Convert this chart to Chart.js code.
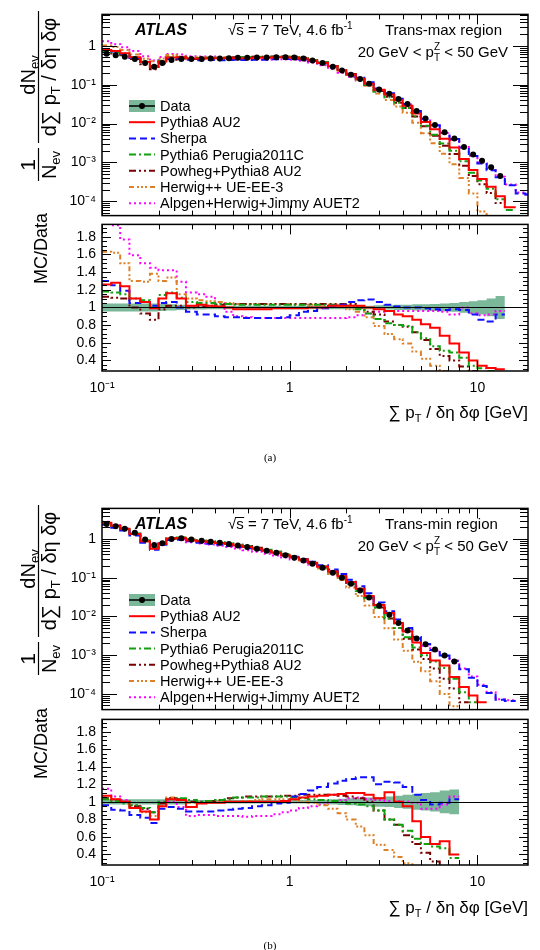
<!DOCTYPE html>
<html>
<head>
<meta charset="utf-8">
<title>Trans-max / Trans-min</title>
<script src="https://cdn.jsdelivr.net/npm/chart.js@4.4.1/dist/chart.umd.min.js"></script>
<style>
  body { margin: 0; background: #fff; }
  #page { position: relative; width: 540px; height: 950px; overflow: hidden; }
  canvas { position: absolute; left: 0; }
  .cap { position: absolute; left: 0; width: 540px; text-align: center; font: 11px "Liberation Serif", "DejaVu Serif", serif; color: #000; }
</style>
</head>
<body>
<div id="page">
  <canvas id="mainMax" width="540" height="230" style="top:0px"></canvas>
  <canvas id="ratioMax" width="540" height="230" style="top:210px"></canvas>
  <div class="cap" style="top:451px">(a)</div>
  <canvas id="mainMin" width="540" height="230" style="top:494px"></canvas>
  <canvas id="ratioMin" width="540" height="245" style="top:705px"></canvas>
  <div class="cap" style="top:939px">(b)</div>
</div>
<script>
const FONT = '"Liberation Sans", Arial, Helvetica, sans-serif';

// bin edges of sum pT / deta dphi [GeV]
const binEdges = [0.1, 0.112, 0.125, 0.14, 0.16, 0.18, 0.2, 0.22, 0.25, 0.28,
    0.32, 0.36, 0.4, 0.45, 0.5, 0.56, 0.63, 0.71, 0.8, 0.9,
    1.0, 1.12, 1.25, 1.4, 1.6, 1.8, 2.0, 2.25, 2.5, 2.8,
    3.2, 3.6, 4.0, 4.5, 5.0, 5.6, 6.3, 7.1, 8.0, 9.0,
    10, 11.2, 12.5, 14, 16, 18, 20];

// ---- trans-max region ----
const maxData = [0.62, 0.57, 0.52, 0.46, 0.36, 0.29, 0.36, 0.43, 0.46, 0.46,
    0.46, 0.47, 0.47, 0.48, 0.49, 0.49, 0.50, 0.50, 0.51, 0.51,
    0.50, 0.47, 0.42, 0.36, 0.29, 0.23, 0.18, 0.14, 0.105, 0.075,
    0.058, 0.043, 0.032, 0.021, 0.0135, 0.0092, 0.0060, 0.0041, 0.0025, 0.0016,
    0.0011, 0.00075, 0.00045];
const maxErr = [0.045, 0.045, 0.045, 0.045, 0.045, 0.045, 0.04, 0.035, 0.03, 0.025,
    0.025, 0.02, 0.02, 0.02, 0.02, 0.02, 0.02, 0.02, 0.02, 0.02,
    0.02, 0.02, 0.02, 0.02, 0.02, 0.02, 0.02, 0.02, 0.02, 0.025,
    0.025, 0.03, 0.03, 0.035, 0.035, 0.04, 0.045, 0.05, 0.06, 0.07,
    0.08, 0.1, 0.13];
// MC / Data
const maxPythia8 = [1.26, 1.28, 1.24, 1.10, 1.06, 0.99, 1.10, 1.16, 1.10, 1.02,
    1.03, 1.02, 1.01, 1.00, 0.98, 0.98, 0.98, 0.98, 0.99, 0.99,
    0.99, 0.99, 1.00, 1.00, 1.02, 1.02, 1.02, 1.02, 1.00, 0.98,
    0.96, 0.92, 0.90, 0.86, 0.81, 0.77, 0.68, 0.59, 0.49, 0.40,
    0.34, 0.315, 0.30];
const maxSherpa = [1.30, 1.25, 1.19, 1.05, 1.06, 1.02, 1.05, 1.06, 1.00, 0.95,
    0.92, 0.92, 0.90, 0.89, 0.89, 0.88, 0.88, 0.88, 0.88, 0.89,
    0.91, 0.95, 0.96, 0.99, 1.02, 1.03, 1.06, 1.08, 1.09, 1.06,
    1.03, 1.01, 1.00, 1.00, 0.99, 0.98, 0.97, 0.98, 0.97, 0.92,
    0.86, 0.84, 0.92];
const maxPythia6 = [1.18, 1.17, 1.15, 1.10, 1.08, 1.00, 1.14, 1.17, 1.11, 1.06,
    1.05, 1.05, 1.04, 1.04, 1.03, 1.03, 1.03, 1.03, 1.03, 1.03,
    1.03, 1.03, 1.03, 1.03, 1.03, 1.03, 1.02, 0.98, 0.93, 0.87,
    0.82, 0.80, 0.79, 0.72, 0.65, 0.56, 0.51, 0.49, 0.43, 0.34,
    0.31, 0.28, 0.25];
const maxPowheg = [1.12, 1.11, 1.10, 1.00, 0.93, 0.86, 0.98, 1.02, 1.02, 1.00,
    1.01, 1.02, 1.03, 1.04, 1.04, 1.04, 1.04, 1.04, 1.04, 1.04,
    1.04, 1.04, 1.04, 1.04, 1.04, 1.04, 1.04, 1.00, 0.95, 0.92,
    0.84, 0.80, 0.78, 0.72, 0.63, 0.53, 0.45, 0.40, 0.33, 0.28,
    0.25, 0.22, 0.20];
const maxHerwig = [1.63, 1.62, 1.50, 1.30, 1.29, 1.38, 1.30, 1.34, 1.15, 1.10,
    1.08, 1.07, 1.06, 1.05, 1.04, 1.04, 1.04, 1.04, 1.04, 1.04,
    1.03, 1.03, 1.03, 1.03, 1.03, 1.01, 0.98, 0.95, 0.89, 0.79,
    0.70, 0.64, 0.59, 0.50, 0.42, 0.34, 0.28, 0.22, 0.16, 0.10,
    0.05, 0.03, 0.02];
const maxAlpgen = [2.10, 1.93, 1.77, 1.59, 1.50, 1.45, 1.42, 1.42, 1.29, 1.17,
    1.15, 1.12, 1.05, 0.95, 0.90, 0.89, 0.88, 0.88, 0.88, 0.88,
    0.88, 0.88, 0.88, 0.88, 0.88, 0.88, 0.89, 0.91, 0.93, 0.95,
    0.96, 0.96, 0.96, 0.96, 0.96, 0.96, 0.95, 0.92, 1.00, 0.93,
    0.91, 0.92, 0.96];
// MC beyond the last data bin (main panel only)
const maxPythia8Tail = [7e-5];
const maxSherpaTail = [2.6e-4, 1.6e-4, 1.5e-4];
const maxPythia6Tail = [6e-5];
const maxPowhegTail = [];
const maxHerwigTail = [];
const maxAlpgenTail = [2.7e-4, 1.7e-4, 1.5e-4];

// ---- trans-min region ----
const minData = [2.45, 2.15, 1.85, 1.45, 0.98, 0.70, 0.78, 1.00, 1.05, 0.98,
    0.90, 0.85, 0.80, 0.74, 0.68, 0.62, 0.56, 0.50, 0.44, 0.38,
    0.33, 0.28, 0.23, 0.18, 0.135, 0.10, 0.07, 0.047, 0.031, 0.019,
    0.011, 0.0068, 0.0043, 0.0027, 0.0019, 0.0014, 0.00098, 0.00068];
const minErr = [0.03, 0.03, 0.03, 0.03, 0.03, 0.03, 0.03, 0.03, 0.03, 0.02,
    0.02, 0.02, 0.02, 0.02, 0.02, 0.02, 0.02, 0.02, 0.02, 0.02,
    0.02, 0.02, 0.02, 0.025, 0.03, 0.035, 0.04, 0.045, 0.05, 0.055,
    0.06, 0.07, 0.08, 0.09, 0.1, 0.11, 0.13, 0.14];
const minPythia8 = [1.07, 1.03, 1.00, 0.93, 0.89, 0.80, 0.95, 1.03, 1.02, 0.94,
    0.98, 0.99, 0.99, 1.00, 1.00, 1.00, 1.00, 1.00, 1.00, 1.01,
    1.03, 1.05, 1.06, 1.07, 1.08, 1.09, 1.10, 1.10, 1.08, 1.04,
    1.11, 1.00, 0.95, 0.78, 0.60, 0.52, 0.55, 0.40];
const minSherpa = [0.96, 0.91, 0.90, 0.85, 0.82, 0.76, 0.92, 0.94, 0.92, 0.89,
    0.89, 0.89, 0.90, 0.91, 0.92, 0.93, 0.95, 0.96, 0.98, 0.99,
    1.06, 1.09, 1.13, 1.17, 1.21, 1.24, 1.26, 1.28, 1.28, 1.20,
    1.23, 1.22, 1.17, 1.08, 1.02, 0.97, 0.99, 1.03];
const minPythia6 = [1.03, 1.01, 0.98, 0.96, 0.93, 0.88, 1.00, 1.03, 1.04, 1.02,
    1.00, 1.01, 1.02, 1.03, 1.05, 1.05, 1.05, 1.06, 1.06, 1.06,
    1.05, 1.04, 1.03, 1.02, 1.01, 1.00, 0.98, 0.97, 0.95, 0.90,
    0.80, 0.74, 0.67, 0.58, 0.52, 0.49, 0.47, 0.36];
const minPowheg = [1.04, 1.02, 1.00, 0.95, 0.92, 0.88, 0.98, 1.04, 1.03, 1.00,
    1.00, 1.01, 1.02, 1.04, 1.05, 1.06, 1.06, 1.06, 1.06, 1.07,
    1.07, 1.08, 1.08, 1.08, 1.08, 1.07, 1.06, 1.04, 1.00, 0.90,
    0.80, 0.74, 0.62, 0.52, 0.42, 0.32, 0.25, 0.20];
const minHerwig = [1.05, 1.03, 1.00, 0.94, 0.88, 0.84, 0.95, 1.05, 1.03, 0.99,
    0.99, 1.00, 1.00, 1.00, 1.00, 1.01, 1.02, 1.03, 1.03, 1.03,
    1.02, 1.00, 0.99, 0.96, 0.92, 0.87, 0.80, 0.72, 0.62, 0.51,
    0.45, 0.37, 0.30, 0.25, 0.20, 0.15, 0.10, 0.07];
const minAlpgen = [1.15, 1.06, 1.02, 0.96, 0.92, 0.88, 1.00, 1.00, 0.94, 0.84,
    0.85, 0.85, 0.84, 0.84, 0.84, 0.83, 0.84, 0.84, 0.86, 0.88,
    0.90, 0.93, 0.95, 0.97, 1.00, 1.02, 1.04, 1.05, 1.03, 1.02,
    1.01, 1.01, 1.00, 0.99, 0.92, 0.92, 0.97, 1.06];
const minPythia8Tail = [1.5e-4, 9e-5, 6e-5];
const minSherpaTail = [4.3e-4, 2.6e-4, 1.6e-4, 1.05e-4, 7e-5, 6.5e-5];
const minPythia6Tail = [1.1e-4, 6e-5];
const minPowhegTail = [6e-5];
const minHerwigTail = [];
const minAlpgenTail = [4.5e-4, 2.8e-4, 1.7e-4, 1.1e-4, 7.2e-5, 6.8e-5];

// axes
const xMin = 0.1, xMax = 18.6;
const xTicks = [0.1, 1, 10];
const xTickLabels = ['10⁻¹', '1', '10'];
const yTicksMain = [1e-4, 1e-3, 1e-2, 1e-1, 1];
const yTickLabelsMain = ['10⁻⁴', '10⁻³', '10⁻²', '10⁻¹', '1'];
const yTicksRatio = [0.4, 0.6, 0.8, 1, 1.2, 1.4, 1.6, 1.8];
const yTickLabelsRatio = ['0.4', '0.6', '0.8', '1', '1.2', '1.4', '1.6', '1.8'];

const mcNames = ['Pythia8 AU2', 'Sherpa', 'Pythia6 Perugia2011C', 'Powheg+Pythia8 AU2',
    'Herwig++ UE-EE-3', 'Alpgen+Herwig+Jimmy AUET2'];
const mcColors = ['#ff0000', '#1010ff', '#10a010', '#7a0000', '#dd8028', '#ff00ff'];
const mcDashes = [[], [7, 4], [7, 3, 2, 3], [7, 3, 2, 3, 2, 3], [5, 3, 2, 2, 2, 2, 2, 3], [2, 3]];
const bandColor = 'rgba(40,140,90,0.62)';

function steps(vals) {
    const pts = [];
    vals.forEach((v, i) => {
        if (v == null) return;
        pts.push({x: binEdges[i], y: v}, {x: binEdges[i + 1], y: v});
    });
    return pts;
}

function centers(vals) {
    return vals.map((v, i) => ({x: Math.sqrt(binEdges[i] * binEdges[i + 1]), y: v}));
}

function mainValues(data, ratio, tail) {
    return data.map((d, i) => d * ratio[i]).concat(tail);
}

function mcSets(list) {
    return list.map((vals, k) => ({
        data: steps(vals),
        borderColor: mcColors[k],
        borderDash: mcDashes[k],
        borderWidth: 2,
        pointRadius: 0,
        fill: false,
        order: k + 1
    }));
}

function font(size, style) {
    return (style ? style + ' ' : '') + size + 'px ' + FONT;
}

// draws text pieces side by side: {t, size, dy, style} or {stack: [sup, sub], size, supDy, subDy}
function richText(ctx, parts, x, y, align) {
    const widths = parts.map(p => {
        ctx.font = font(p.size, p.style);
        if (p.stack) {
            return Math.max(ctx.measureText(p.stack[0]).width, ctx.measureText(p.stack[1]).width);
        }
        return ctx.measureText(p.t).width;
    });
    const total = widths.reduce((a, b) => a + b, 0);
    let cx = align === 'center' ? x - total / 2 : (align === 'right' ? x - total : x);
    ctx.textAlign = 'left';
    parts.forEach((p, i) => {
        ctx.font = font(p.size, p.style);
        if (p.stack) {
            ctx.fillText(p.stack[0], cx, y + p.supDy);
            ctx.fillText(p.stack[1], cx, y + p.subDy);
        } else {
            ctx.fillText(p.t, cx, y + (p.dy || 0));
        }
        cx += widths[i];
    });
    return total;
}

// ROOT style frame with inward ticks on all sides
const rootFrame = {
    id: 'rootFrame',
    afterDraw(chart, args, o) {
        const ctx = chart.ctx;
        const a = chart.chartArea;
        const xs = chart.scales.x, ys = chart.scales.y;
        ctx.save();
        ctx.strokeStyle = '#000';
        ctx.lineWidth = 1;
        ctx.beginPath();
        for (let d = -1; d <= 1; d++) {
            for (let m = 1; m <= 9; m++) {
                const v = m * Math.pow(10, d);
                if (v < xMin * 0.999 || v > xMax) continue;
                const px = Math.round(xs.getPixelForValue(v)) + 0.5;
                const len = m === 1 ? o.xMajor : o.xMinor;
                ctx.moveTo(px, a.bottom); ctx.lineTo(px, a.bottom - len);
                ctx.moveTo(px, a.top); ctx.lineTo(px, a.top + len);
            }
        }
        if (o.yLog) {
            for (let d = -5; d <= 0; d++) {
                for (let m = 1; m <= 9; m++) {
                    const v = m * Math.pow(10, d);
                    if (v < ys.min || v > ys.max) continue;
                    const py = Math.round(ys.getPixelForValue(v)) + 0.5;
                    const len = m === 1 ? o.yMajor : o.yMinor;
                    ctx.moveTo(a.left, py); ctx.lineTo(a.left + len, py);
                    ctx.moveTo(a.right, py); ctx.lineTo(a.right - len, py);
                }
            }
        } else {
            for (let k = 0; k <= 40; k++) {
                const v = k * 0.05;
                if (v < ys.min || v > ys.max) continue;
                const py = Math.round(ys.getPixelForValue(v)) + 0.5;
                const len = k % 4 === 0 ? o.yMajor : o.yMinor;
                ctx.moveTo(a.left, py); ctx.lineTo(a.left + len, py);
                ctx.moveTo(a.right, py); ctx.lineTo(a.right - len, py);
            }
        }
        ctx.stroke();
        if (o.unity) {
            const py = Math.round(ys.getPixelForValue(1)) + 0.5;
            ctx.beginPath();
            ctx.moveTo(a.left, py); ctx.lineTo(a.right, py);
            ctx.stroke();
        }
        ctx.lineWidth = 1.5;
        ctx.strokeRect(a.left, a.top, a.right - a.left, a.bottom - a.top);
        ctx.restore();
    }
};

const mainText = {
    id: 'mainText',
    afterDraw(chart, args, o) {
        const ctx = chart.ctx;
        ctx.save();
        ctx.fillStyle = '#000';
        ctx.strokeStyle = '#000';
        ctx.textBaseline = 'alphabetic';

        richText(ctx, [{t: 'ATLAS', size: 16, style: 'italic bold'}], 135, 35, 'left');
        ctx.font = font(15);
        const wRoot = ctx.measureText('√').width;
        const wS = ctx.measureText('s').width;
        richText(ctx, [{t: '√s = 7 TeV, 4.6 fb', size: 15}, {t: '-1', size: 10, dy: -6}], 228, 35, 'left');
        ctx.lineWidth = 1;
        ctx.beginPath();
        ctx.moveTo(228 + wRoot - 1, 23.5); ctx.lineTo(228 + wRoot + wS + 0.5, 23.5);
        ctx.stroke();
        richText(ctx, [{t: o.region, size: 15}], 385, 35, 'left');
        richText(ctx, [{t: '20 GeV < p', size: 15},
            {stack: ['Z', 'T'], size: 10, supDy: -7, subDy: 4},
            {t: ' < 50 GeV', size: 15}], 508, 57, 'right');

        // legend
        const names = ['Data'].concat(mcNames);
        names.forEach((name, i) => {
            const y = 106 + i * 16.2;
            if (i === 0) {
                ctx.fillStyle = bandColor;
                ctx.fillRect(129, y - 6, 26, 12);
                ctx.strokeStyle = '#000';
                ctx.lineWidth = 1.5;
                ctx.beginPath(); ctx.moveTo(129, y); ctx.lineTo(155, y); ctx.stroke();
                ctx.fillStyle = '#000';
                ctx.beginPath(); ctx.arc(142, y, 3, 0, Math.PI * 2); ctx.fill();
            } else {
                ctx.strokeStyle = mcColors[i - 1];
                ctx.setLineDash(mcDashes[i - 1]);
                ctx.lineWidth = 2;
                ctx.beginPath(); ctx.moveTo(129, y); ctx.lineTo(155, y); ctx.stroke();
                ctx.setLineDash([]);
            }
            ctx.fillStyle = '#000';
            ctx.font = font(14.5);
            ctx.textAlign = 'left';
            ctx.textBaseline = 'middle';
            ctx.fillText(name, 160, y + 1);
        });

        // y title: 1/N_ev dN_ev / dSum pT / deta dphi (rotated)
        ctx.textBaseline = 'alphabetic';
        ctx.fillStyle = '#000';
        ctx.strokeStyle = '#000';
        ctx.setLineDash([]);
        ctx.translate(38.5, 183);
        ctx.rotate(-Math.PI / 2);
        ctx.lineWidth = 1.2;
        richText(ctx, [{t: '1', size: 21}], 18, -4, 'center');
        ctx.beginPath(); ctx.moveTo(2, 0); ctx.lineTo(35, 0); ctx.stroke();
        richText(ctx, [{t: 'N', size: 20}, {t: 'ev', size: 13, dy: 4}], 18, 17, 'center');
        richText(ctx, [{t: 'dN', size: 20}, {t: 'ev', size: 13, dy: 4}], 108, -4, 'center');
        ctx.beginPath(); ctx.moveTo(40, 0); ctx.lineTo(172, 0); ctx.stroke();
        richText(ctx, [{t: 'd∑ p', size: 20}, {t: 'T', size: 13, dy: 4}, {t: ' / δη δφ', size: 20}], 106, 17, 'center');
        ctx.restore();
    }
};

const ratioText = {
    id: 'ratioText',
    afterDraw(chart) {
        const ctx = chart.ctx;
        ctx.save();
        ctx.fillStyle = '#000';
        richText(ctx, [{t: '∑ p', size: 17}, {t: 'T', size: 11, dy: 4}, {t: ' / δη δφ [GeV]', size: 17}], 528, 208, 'right');
        ctx.translate(42, 3);
        ctx.rotate(-Math.PI / 2);
        ctx.font = font(18);
        ctx.textAlign = 'right';
        ctx.textBaseline = 'middle';
        ctx.fillText('MC/Data', 0, 0);
        ctx.restore();
    }
};

function mainChart(id, data, mcMain, yMin, yMax, padTop, padBottom, region) {
    const datasets = mcSets(mcMain).concat([{
        data: centers(data),
        showLine: false,
        pointRadius: 3,
        pointBackgroundColor: '#000',
        pointBorderColor: '#000',
        pointBorderWidth: 0,
        order: 0
    }]);
    return new Chart(document.getElementById(id), {
        type: 'line',
        data: {datasets: datasets},
        options: {
            responsive: false,
            animation: false,
            devicePixelRatio: 1,
            layout: {padding: {top: padTop, right: 12, bottom: padBottom, left: 0}},
            plugins: {
                legend: {display: false},
                tooltip: {enabled: false},
                rootFrame: {xMajor: 10, xMinor: 5, yMajor: 15, yMinor: 8, yLog: true},
                mainText: {region: region}
            },
            scales: {
                x: {type: 'logarithmic', min: xMin, max: xMax, display: false},
                y: {
                    type: 'logarithmic',
                    min: yMin,
                    max: yMax,
                    afterFit: s => { s.width = 102; },
                    afterBuildTicks: s => { s.ticks = yTicksMain.map(v => ({value: v})); },
                    grid: {display: false, drawTicks: false},
                    border: {display: false},
                    ticks: {
                        padding: 6,
                        color: '#000',
                        autoSkip: false,
                        font: {family: FONT, size: 14},
                        callback: (v, i) => yTickLabelsMain[i]
                    }
                }
            }
        },
        plugins: [rootFrame, mainText]
    });
}

function ratioChart(id, err, ratios, xHeight) {
    const datasets = [
        {data: steps(err.map(e => 1 + e)), borderColor: 'rgba(0,0,0,0)', borderWidth: 0,
            pointRadius: 0, fill: false, order: 20},
        {data: steps(err.map(e => 1 - e)), borderColor: 'rgba(0,0,0,0)', borderWidth: 0,
            pointRadius: 0, fill: '-1', backgroundColor: bandColor, order: 19}
    ].concat(mcSets(ratios));
    return new Chart(document.getElementById(id), {
        type: 'line',
        data: {datasets: datasets},
        options: {
            responsive: false,
            animation: false,
            devicePixelRatio: 1,
            layout: {padding: {top: 8, right: 12, bottom: 0, left: 0}},
            plugins: {
                legend: {display: false},
                tooltip: {enabled: false},
                rootFrame: {xMajor: 10, xMinor: 5, yMajor: 9, yMinor: 5, yLog: false, unity: true}
            },
            scales: {
                x: {
                    type: 'logarithmic',
                    min: xMin,
                    max: xMax,
                    afterFit: s => { s.height = xHeight; },
                    afterBuildTicks: s => { s.ticks = xTicks.map(v => ({value: v})); },
                    grid: {display: false, drawTicks: false},
                    border: {display: false},
                    ticks: {
                        padding: 9,
                        maxRotation: 0,
                        autoSkip: false,
                        color: '#000',
                        font: {family: FONT, size: 14},
                        callback: (v, i) => xTickLabels[i]
                    }
                },
                y: {
                    type: 'linear',
                    min: 0.28,
                    max: 1.94,
                    afterFit: s => { s.width = 102; },
                    afterBuildTicks: s => { s.ticks = yTicksRatio.map(v => ({value: v})); },
                    grid: {display: false, drawTicks: false},
                    border: {display: false},
                    ticks: {
                        padding: 6,
                        color: '#000',
                        autoSkip: false,
                        font: {family: FONT, size: 14},
                        callback: (v, i) => yTickLabelsRatio[i]
                    }
                }
            }
        },
        plugins: [rootFrame, ratioText]
    });
}

mainChart('mainMax', maxData, [
    mainValues(maxData, maxPythia8, maxPythia8Tail),
    mainValues(maxData, maxSherpa, maxSherpaTail),
    mainValues(maxData, maxPythia6, maxPythia6Tail),
    mainValues(maxData, maxPowheg, maxPowhegTail),
    mainValues(maxData, maxHerwig, maxHerwigTail),
    mainValues(maxData, maxAlpgen, maxAlpgenTail)
], 4.3e-5, 6.4, 11, 12, 'Trans-max region');

ratioChart('ratioMax', maxErr,
    [maxPythia8, maxSherpa, maxPythia6, maxPowheg, maxHerwig, maxAlpgen], 69);

mainChart('mainMin', minData, [
    mainValues(minData, minPythia8, minPythia8Tail),
    mainValues(minData, minSherpa, minSherpaTail),
    mainValues(minData, minPythia6, minPythia6Tail),
    mainValues(minData, minPowheg, minPowhegTail),
    mainValues(minData, minHerwig, minHerwigTail),
    mainValues(minData, minAlpgen, minAlpgenTail)
], 3.9e-5, 6.2, 11, 11, 'Trans-min region');

ratioChart('ratioMin', minErr,
    [minPythia8, minSherpa, minPythia6, minPowheg, minHerwig, minAlpgen], 85);
</script>
</body>
</html>
